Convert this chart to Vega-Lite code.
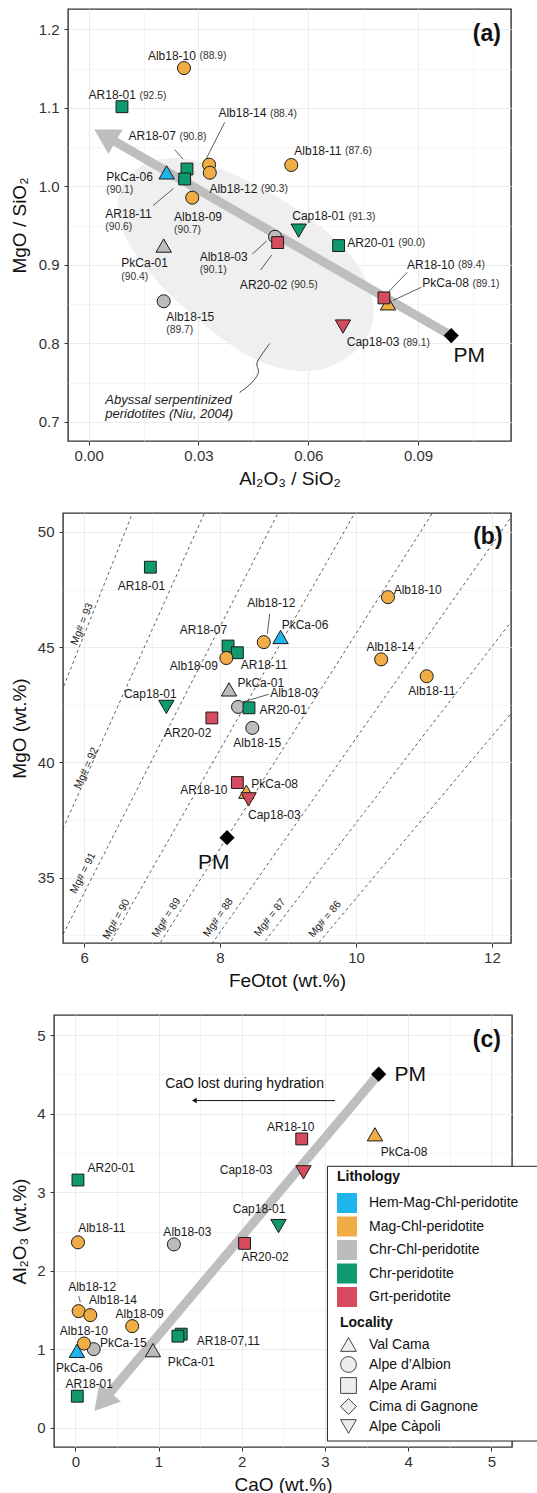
{
 "$schema": "https://vega.github.io/schema/vega-lite/v6.json",
 "padding": {"left": 8, "top": 8, "right": 0, "bottom": 0},
 "spacing": 23,
 "resolve": {"legend": {"color": "independent", "shape": "independent"}},
 "config": {
  "font": "Liberation Sans",
  "view": {"stroke": "#333333", "strokeWidth": 1.4},
  "axis": {"domain": false, "grid": true, "gridColor": "#EBEBEB", "labelFontSize": 15, "labelColor": "#333333", "titleFontSize": 19, "titleFontWeight": "normal", "titleColor": "#111111", "tickSize": 4, "tickColor": "#333333", "labelOverlap": false, "labelFlush": false, "labelBound": false},
  "axisX": {"labelPadding": 3, "titlePadding": 6},
  "axisY": {"labelPadding": 5, "titlePadding": 9, "minExtent": 0}
 },
 "datasets": {
  "a_field": [
   {"i":1,"x":0.0076,"y":0.9735},{"i":2,"x":0.00828,"y":0.9945},{"i":3,"x":0.01074,"y":1.0136},{"i":4,"x":0.01484,"y":1.0289},
   {"i":5,"x":0.0203,"y":1.0365},{"i":6,"x":0.02713,"y":1.0365},{"i":7,"x":0.03533,"y":1.0251},{"i":8,"x":0.04626,"y":1.0009},
   {"i":9,"x":0.05719,"y":0.9716},{"i":10,"x":0.06675,"y":0.9373},{"i":11,"x":0.07358,"y":0.9028},{"i":12,"x":0.07741,"y":0.8672},
   {"i":13,"x":0.07823,"y":0.8341},{"i":14,"x":0.07631,"y":0.8048},{"i":15,"x":0.07085,"y":0.7807},{"i":16,"x":0.06374,"y":0.7641},
   {"i":17,"x":0.055,"y":0.7641},{"i":18,"x":0.04598,"y":0.7768},{"i":19,"x":0.03888,"y":0.7972},{"i":20,"x":0.03095,"y":0.8252},
   {"i":21,"x":0.02385,"y":0.8545},{"i":22,"x":0.01784,"y":0.8825},{"i":23,"x":0.01238,"y":0.9156},{"i":24,"x":0.00883,"y":0.9449}
  ],
  "a_squig": [
   {"i":1,"x":0.04945,"y":0.7999},{"i":2,"x":0.04708,"y":0.7846},{"i":3,"x":0.04544,"y":0.7732},{"i":4,"x":0.0468,"y":0.7655},
   {"i":5,"x":0.04571,"y":0.7553},{"i":6,"x":0.04353,"y":0.7451},{"i":7,"x":0.04126,"y":0.7375}
  ],
  "a_shaft": [{"x":0.09907,"y":0.81},{"x":0.00443,"y":1.0645}],
  "a_head": [{"x":0.00443,"y":1.0645}],
  "a_seg": [
   {"x":0.0235,"y":1.0467,"x2":0.02577,"y2":1.0348},
   {"x":0.03716,"y":1.0814,"x2":0.03186,"y2":1.0327},
   {"x":0.01757,"y":0.9754,"x2":0.02322,"y2":0.9975},
   {"x":0.04475,"y":0.914,"x2":0.04863,"y2":0.9304},
   {"x":0.04697,"y":0.8935,"x2":0.05005,"y2":0.9127},
   {"x":0.08705,"y":0.8906,"x2":0.08158,"y2":0.8639},
   {"x":0.09087,"y":0.8715,"x2":0.08314,"y2":0.8546}
  ],
  "a_pts": [
   {"s":"Alb18-10","lith":"Mag-Chl-peridotite","loc":"Alpe d’Albion","x":0.02604,"y":1.1506},
   {"s":"AR18-01","lith":"Chr-peridotite","loc":"Alpe Arami","x":0.0091,"y":1.1014},
   {"s":"Alb18-11","lith":"Mag-Chl-peridotite","loc":"Alpe d’Albion","x":0.05536,"y":1.0272},
   {"s":"Alb18-14","lith":"Mag-Chl-peridotite","loc":"Alpe d’Albion","x":0.0329,"y":1.0276},
   {"s":"Alb18-12","lith":"Mag-Chl-peridotite","loc":"Alpe d’Albion","x":0.0331,"y":1.0174},
   {"s":"PkCa-06","lith":"Hem-Mag-Chl-peridotite","loc":"Val Cama","x":0.0213,"y":1.0178},
   {"s":"AR18-07","lith":"Chr-peridotite","loc":"Alpe Arami","x":0.02686,"y":1.0221},
   {"s":"AR18-11","lith":"Chr-peridotite","loc":"Alpe Arami","x":0.02623,"y":1.0094},
   {"s":"Alb18-09","lith":"Mag-Chl-peridotite","loc":"Alpe d’Albion","x":0.0283,"y":0.9856},
   {"s":"Cap18-01","lith":"Chr-peridotite","loc":"Alpe Càpoli","x":0.05738,"y":0.9436},
   {"s":"AR20-01","lith":"Chr-peridotite","loc":"Alpe Arami","x":0.0683,"y":0.9246},
   {"s":"Alb18-03","lith":"Chr-Chl-peridotite","loc":"Alpe d’Albion","x":0.05093,"y":0.9358},
   {"s":"AR20-02","lith":"Grt-peridotite","loc":"Alpe Arami","x":0.05164,"y":0.9284},
   {"s":"PkCa-01","lith":"Chr-Chl-peridotite","loc":"Val Cama","x":0.0205,"y":0.9246},
   {"s":"Alb18-15","lith":"Chr-Chl-peridotite","loc":"Alpe d’Albion","x":0.0205,"y":0.8537},
   {"s":"PkCa-08","lith":"Mag-Chl-peridotite","loc":"Val Cama","x":0.08178,"y":0.8511},
   {"s":"AR18-10","lith":"Grt-peridotite","loc":"Alpe Arami","x":0.08068,"y":0.858},
   {"s":"Cap18-03","lith":"Grt-peridotite","loc":"Alpe Càpoli","x":0.06948,"y":0.8215}
  ],
  "a_pm": [{"x":0.09907,"y":0.81}],
  "a_lab1": [
   {"name":"Alb18-10","mg":"(88.9)","x":0.02973,"y":1.1663},
   {"name":"AR18-01","mg":"(92.5)","x":0.01333,"y":1.1163},
   {"name":"AR18-07","mg":"(90.8)","x":0.02426,"y":1.0636},
   {"name":"Alb18-14","mg":"(88.4)","x":0.04899,"y":1.0929},
   {"name":"Alb18-12","mg":"(90.3)","x":0.04653,"y":0.9967},
   {"name":"Alb18-11","mg":"(87.6)","x":0.06948,"y":1.0454},
   {"name":"Cap18-01","mg":"(91.3)","x":0.07044,"y":0.9618},
   {"name":"AR20-01","mg":"(90.0)","x":0.08404,"y":0.928},
   {"name":"AR20-02","mg":"(90.5)","x":0.05467,"y":0.8746},
   {"name":"AR18-10","mg":"(89.4)","x":0.10036,"y":0.9004},
   {"name":"PkCa-08","mg":"(89.1)","x":0.10432,"y":0.8766},
   {"name":"Cap18-03","mg":"(89.1)","x":0.08533,"y":0.8015}
  ],
  "a_lab2": [
   {"name":"PkCa-06","mg":"(90.1)","x":0.00481,"y":1.0123},
   {"name":"AR18-11","mg":"(90.6)","x":0.00454,"y":0.9649},
   {"name":"Alb18-09","mg":"(90.7)","x":0.02331,"y":0.9615},
   {"name":"PkCa-01","mg":"(90.4)","x":0.00891,"y":0.902},
   {"name":"Alb18-03","mg":"(90.1)","x":0.03033,"y":0.9106},
   {"name":"Alb18-15","mg":"(89.7)","x":0.0212,"y":0.8342}
  ],
  "a_tag": [{"t":"(a)","x":0.1088,"y":1.1943}],
  "a_pmt": [{"t":"PM","x":0.104,"y":0.7846}],
  "a_aby": [{"t":"Abyssal serpentinized","x":0.00454,"y":0.7282},{"t":"peridotites (Niu, 2004)","x":0.00454,"y":0.7106}],

  "b_mg": [
   {"mg":93,"x":3.911,"y":30,"x2":7.006,"y2":53},
   {"mg":92,"x":4.604,"y":30,"x2":8.103,"y2":53},
   {"mg":91,"x":5.25,"y":30,"x2":9.231,"y2":53},
   {"mg":90,"x":5.962,"y":30,"x2":10.403,"y2":53},
   {"mg":89,"x":6.652,"y":30,"x2":11.592,"y2":53},
   {"mg":88,"x":7.372,"y":30,"x2":12.844,"y2":53},
   {"mg":87,"x":8.074,"y":30,"x2":14.084,"y2":53},
   {"mg":86,"x":8.832,"y":30,"x2":15.374,"y2":53}
  ],
  "b_mglab": [
   {"mg":93,"t":"Mg# = 93","x":5.97,"y":46.0},
   {"mg":92,"t":"Mg# = 92","x":6.034,"y":39.75},
   {"mg":91,"t":"Mg# = 91","x":5.985,"y":35.2},
   {"mg":90,"t":"Mg# = 90","x":6.477,"y":33.2},
   {"mg":89,"t":"Mg# = 89","x":7.213,"y":33.27},
   {"mg":88,"t":"Mg# = 88","x":7.975,"y":33.27},
   {"mg":87,"t":"Mg# = 87","x":8.735,"y":33.27},
   {"mg":86,"t":"Mg# = 86","x":9.544,"y":33.2}
  ],
  "b_seg": [
   {"x":8.731,"y":46.45,"x2":8.696,"y2":45.584},
   {"x":8.716,"y":42.957,"x2":8.338,"y2":42.623}
  ],
  "b_pts": [
   {"s":"AR18-01","lith":"Chr-peridotite","loc":"Alpe Arami","x":6.975,"y":48.47},
   {"s":"Alb18-10","lith":"Mag-Chl-peridotite","loc":"Alpe d’Albion","x":10.47,"y":47.17},
   {"s":"Alb18-12","lith":"Mag-Chl-peridotite","loc":"Alpe d’Albion","x":8.643,"y":45.22},
   {"s":"PkCa-06","lith":"Hem-Mag-Chl-peridotite","loc":"Val Cama","x":8.89,"y":45.44},
   {"s":"AR18-07","lith":"Chr-peridotite","loc":"Alpe Arami","x":8.118,"y":45.05},
   {"s":"AR18-11","lith":"Chr-peridotite","loc":"Alpe Arami","x":8.255,"y":44.76},
   {"s":"Alb18-09","lith":"Mag-Chl-peridotite","loc":"Alpe d’Albion","x":8.093,"y":44.53},
   {"s":"Alb18-14","lith":"Mag-Chl-peridotite","loc":"Alpe d’Albion","x":10.37,"y":44.47},
   {"s":"Alb18-11","lith":"Mag-Chl-peridotite","loc":"Alpe d’Albion","x":11.04,"y":43.74},
   {"s":"PkCa-01","lith":"Chr-Chl-peridotite","loc":"Val Cama","x":8.132,"y":43.17},
   {"s":"Alb18-03","lith":"Chr-Chl-peridotite","loc":"Alpe d’Albion","x":8.265,"y":42.41},
   {"s":"AR20-01","lith":"Chr-peridotite","loc":"Alpe Arami","x":8.426,"y":42.37},
   {"s":"Cap18-01","lith":"Chr-peridotite","loc":"Alpe Càpoli","x":7.21,"y":42.41},
   {"s":"AR20-02","lith":"Grt-peridotite","loc":"Alpe Arami","x":7.88,"y":41.93},
   {"s":"Alb18-15","lith":"Chr-Chl-peridotite","loc":"Alpe d’Albion","x":8.475,"y":41.5},
   {"s":"AR18-10","lith":"Grt-peridotite","loc":"Alpe Arami","x":8.255,"y":39.13},
   {"s":"PkCa-08","lith":"Mag-Chl-peridotite","loc":"Val Cama","x":8.387,"y":38.73},
   {"s":"Cap18-03","lith":"Grt-peridotite","loc":"Alpe Càpoli","x":8.42,"y":38.4}
  ],
  "b_pm": [{"x":8.103,"y":36.74}],
  "b_lab": [
   {"t":"AR18-01","x":6.843,"y":47.645},
   {"t":"Alb18-10","x":10.907,"y":47.5},
   {"t":"Alb18-12","x":8.754,"y":46.909},
   {"t":"PkCa-06","x":9.25,"y":45.974},
   {"t":"AR18-07","x":7.757,"y":45.758},
   {"t":"AR18-11","x":8.647,"y":44.242},
   {"t":"Alb18-09","x":7.615,"y":44.169},
   {"t":"Alb18-14","x":10.507,"y":45.004},
   {"t":"Alb18-11","x":11.115,"y":43.087},
   {"t":"PkCa-01","x":8.599,"y":43.446},
   {"t":"Alb18-03","x":9.091,"y":43.013},
   {"t":"AR20-01","x":8.929,"y":42.264},
   {"t":"Cap18-01","x":6.974,"y":42.987},
   {"t":"AR20-02","x":7.525,"y":41.281},
   {"t":"Alb18-15","x":8.547,"y":40.823},
   {"t":"AR18-10","x":7.762,"y":38.801},
   {"t":"PkCa-08","x":8.804,"y":39.048},
   {"t":"Cap18-03","x":8.799,"y":37.719}
  ],
  "b_tag": [{"t":"(b)","x":11.94,"y":49.77}],
  "b_pmt": [{"t":"PM","x":7.909,"y":35.654}],

  "c_shaft": [{"x":3.646,"y":4.502},{"x":0.325,"y":0.334}],
  "c_head": [{"x":0.325,"y":0.334}],
  "c_thin": [{"x":3.121,"y":4.166,"x2":1.44,"y2":4.166}],
  "c_thinhead": [{"x":1.43,"y":4.166}],
  "c_seg": [{"x":0.041,"y":1.678,"x2":0.06,"y2":1.601}],
  "c_pts": [
   {"s":"AR18-10","lith":"Grt-peridotite","loc":"Alpe Arami","x":2.721,"y":3.678},
   {"s":"PkCa-08","lith":"Mag-Chl-peridotite","loc":"Val Cama","x":3.601,"y":3.737},
   {"s":"AR20-01","lith":"Chr-peridotite","loc":"Alpe Arami","x":0.032,"y":3.155},
   {"s":"Cap18-03","lith":"Grt-peridotite","loc":"Alpe Càpoli","x":2.742,"y":3.253},
   {"s":"Cap18-01","lith":"Chr-peridotite","loc":"Alpe Càpoli","x":2.442,"y":2.569},
   {"s":"Alb18-11","lith":"Mag-Chl-peridotite","loc":"Alpe d’Albion","x":0.032,"y":2.362},
   {"s":"Alb18-03","lith":"Chr-Chl-peridotite","loc":"Alpe d’Albion","x":1.185,"y":2.336},
   {"s":"AR20-02","lith":"Grt-peridotite","loc":"Alpe Arami","x":2.034,"y":2.349},
   {"s":"Alb18-12","lith":"Mag-Chl-peridotite","loc":"Alpe d’Albion","x":0.04,"y":1.487},
   {"s":"Alb18-14","lith":"Mag-Chl-peridotite","loc":"Alpe d’Albion","x":0.18,"y":1.436},
   {"s":"Alb18-09","lith":"Mag-Chl-peridotite","loc":"Alpe d’Albion","x":0.684,"y":1.296},
   {"s":"AR18-07","lith":"Chr-peridotite","loc":"Alpe Arami","x":1.273,"y":1.194},
   {"s":"AR18-11","lith":"Chr-peridotite","loc":"Alpe Arami","x":1.233,"y":1.168},
   {"s":"PkCa-15","lith":"Chr-Chl-peridotite","loc":"Alpe d’Albion","x":0.221,"y":1.003},
   {"s":"Alb18-10","lith":"Mag-Chl-peridotite","loc":"Alpe d’Albion","x":0.104,"y":1.075},
   {"s":"PkCa-06","lith":"Hem-Mag-Chl-peridotite","loc":"Val Cama","x":0.02,"y":0.981},
   {"s":"PkCa-01","lith":"Chr-Chl-peridotite","loc":"Val Cama","x":0.933,"y":0.99},
   {"s":"AR18-01","lith":"Chr-peridotite","loc":"Alpe Arami","x":0.024,"y":0.404}
  ],
  "c_pm": [{"x":3.646,"y":4.502}],
  "c_lab": [
   {"t":"AR18-10","x":2.589,"y":3.827},
   {"t":"PkCa-08","x":3.95,"y":3.516},
   {"t":"AR20-01","x":0.432,"y":3.304},
   {"t":"Cap18-03","x":2.053,"y":3.283},
   {"t":"Cap18-01","x":2.209,"y":2.782},
   {"t":"Alb18-11","x":0.318,"y":2.54},
   {"t":"Alb18-03","x":1.347,"y":2.497},
   {"t":"AR20-02","x":2.281,"y":2.171},
   {"t":"Alb18-12","x":0.203,"y":1.789},
   {"t":"Alb18-14","x":0.453,"y":1.627},
   {"t":"Alb18-09","x":0.773,"y":1.445},
   {"t":"AR18-07,11","x":1.839,"y":1.104},
   {"t":"Alb18-10","x":0.102,"y":1.236},
   {"t":"PkCa-15","x":0.576,"y":1.083},
   {"t":"PkCa-06","x":0.048,"y":0.757},
   {"t":"PkCa-01","x":1.393,"y":0.841},
   {"t":"AR18-01","x":0.168,"y":0.566}
  ],
  "c_tag": [{"t":"(c)","x":4.946,"y":4.939}],
  "c_pmt": [{"t":"PM","x":4.024,"y":4.493}],
  "c_note": [{"t":"CaO lost during hydration","x":2.034,"y":4.378}],
  "c_box": [{"x":3.03,"x2":5.62,"y":3.33,"y2":-0.166}],
  "spacer": []
 },
 "vconcat": [
  {
   "spacing": 0,
   "resolve": {"legend": {"color": "independent", "shape": "independent"}},
   "hconcat": [
    {"width": 1, "height": 1, "data": {"name": "spacer"}, "mark": {"type": "point", "opacity": 0}, "view": {"stroke": null}},
    {
     "width": 443, "height": 432,
     "encoding": {
      "x": {"field": "x", "type": "quantitative", "title": "Al₂O₃ / SiO₂",
       "scale": {"domain": [-0.00565, 0.1154], "nice": false, "zero": false},
       "axis": {"values": [0,0.015,0.03,0.045,0.06,0.075,0.09,0.105], "format": ".2f",
        "labelExpr": "abs(datum.value/0.03 - round(datum.value/0.03)) < 0.01 ? datum.label : ''",
        "tickOpacity": {"condition": {"test": "abs(datum.value/0.03 - round(datum.value/0.03)) < 0.01", "value": 1}, "value": 0},
        "gridWidth": {"condition": {"test": "abs(datum.value/0.03 - round(datum.value/0.03)) < 0.01", "value": 1}, "value": 0.5}}},
      "y": {"field": "y", "type": "quantitative", "title": "MgO / SiO₂",
       "scale": {"domain": [0.6758, 1.2258], "nice": false, "zero": false},
       "axis": {"values": [0.7,0.75,0.8,0.85,0.9,0.95,1.0,1.05,1.1,1.15,1.2], "format": ".1f", "minExtent": 30, "maxExtent": 30,
        "labelExpr": "abs(datum.value*10 - round(datum.value*10)) < 0.01 ? datum.label : ''",
        "tickOpacity": {"condition": {"test": "abs(datum.value*10 - round(datum.value*10)) < 0.01", "value": 1}, "value": 0},
        "gridWidth": {"condition": {"test": "abs(datum.value*10 - round(datum.value*10)) < 0.01", "value": 1}, "value": 0.5}}}
     },
     "layer": [
      {"data": {"name": "a_field"}, "mark": {"type": "line", "interpolate": "basis-closed", "fill": "#EFEFEF", "strokeOpacity": 0}, "encoding": {"order": {"field": "i", "type": "quantitative"}}},
      {"data": {"name": "a_squig"}, "mark": {"type": "line", "interpolate": "basis", "color": "#333333", "strokeWidth": 0.9}, "encoding": {"order": {"field": "i", "type": "quantitative"}}},
      {"data": {"name": "a_shaft"}, "mark": {"type": "line", "color": "#BEBEBE", "strokeWidth": 9, "strokeCap": "butt"}, "encoding": {}},
      {"data": {"name": "a_head"}, "mark": {"type": "point", "shape": "triangle-up", "angle": 300, "size": 800, "filled": true, "color": "#BEBEBE", "opacity": 1, "strokeWidth": 0}, "encoding": {}},
      {"data": {"name": "a_seg"}, "mark": {"type": "rule", "color": "#333333", "strokeWidth": 0.8}, "encoding": {"x2": {"field": "x2"}, "y2": {"field": "y2"}}},
      {"data": {"name": "a_pts"}, "mark": {"type": "point", "filled": true, "opacity": 1, "stroke": "#1a1a1a", "strokeWidth": 1},
       "encoding": {
        "color": {"field": "lith", "type": "nominal", "scale": {"domain": ["Hem-Mag-Chl-peridotite","Mag-Chl-peridotite","Chr-Chl-peridotite","Chr-peridotite","Grt-peridotite"], "range": ["#1FB4EC","#F0AD46","#BCBCBC","#0E9A6E","#D64B5E"]}, "legend": null},
        "shape": {"field": "loc", "type": "nominal", "scale": {"domain": ["Val Cama","Alpe d’Albion","Alpe Arami","Cima di Gagnone","Alpe Càpoli"], "range": ["triangle-up","circle","square","diamond","triangle-down"]}, "legend": null},
        "size": {"condition": [{"test": "datum.loc === 'Alpe Arami'", "value": 140}, {"test": "datum.loc === 'Alpe d’Albion'", "value": 170}], "value": 235}
       }},
      {"data": {"name": "a_pm"}, "mark": {"type": "point", "shape": "diamond", "size": 230, "filled": true, "color": "#000000", "opacity": 1}, "encoding": {}},
      {"data": {"name": "a_lab1"}, "mark": {"type": "text", "align": "right", "baseline": "middle", "fontSize": 12, "dx": -1.5, "color": "#1a1a1a"}, "encoding": {"text": {"field": "name"}}},
      {"data": {"name": "a_lab1"}, "mark": {"type": "text", "align": "left", "baseline": "middle", "fontSize": 10.3, "dx": 2, "dy": 0.5, "color": "#333333"}, "encoding": {"text": {"field": "mg"}}},
      {"data": {"name": "a_lab2"}, "mark": {"type": "text", "align": "left", "baseline": "middle", "fontSize": 12, "color": "#1a1a1a"}, "encoding": {"text": {"field": "name"}}},
      {"data": {"name": "a_lab2"}, "mark": {"type": "text", "align": "left", "baseline": "middle", "fontSize": 10.3, "dy": 13.5, "color": "#333333"}, "encoding": {"text": {"field": "mg"}}},
      {"data": {"name": "a_tag"}, "mark": {"type": "text", "align": "center", "baseline": "middle", "fontSize": 23, "fontWeight": "bold", "color": "#111111"}, "encoding": {"text": {"field": "t"}}},
      {"data": {"name": "a_pmt"}, "mark": {"type": "text", "align": "center", "baseline": "middle", "fontSize": 21, "color": "#111111"}, "encoding": {"text": {"field": "t"}}},
      {"data": {"name": "a_aby"}, "mark": {"type": "text", "align": "left", "baseline": "middle", "fontSize": 13, "fontStyle": "italic", "color": "#222222"}, "encoding": {"text": {"field": "t"}}}
     ]
    }
   ]
  },
  {
   "spacing": 0,
   "resolve": {"legend": {"color": "independent", "shape": "independent"}},
   "hconcat": [
    {"width": 1, "height": 1, "data": {"name": "spacer"}, "mark": {"type": "point", "opacity": 0}, "view": {"stroke": null}},
    {
     "width": 448, "height": 430,
     "encoding": {
      "x": {"field": "x", "type": "quantitative", "title": "FeOtot (wt.%)",
       "scale": {"domain": [5.69, 12.28], "nice": false, "zero": false},
       "axis": {"values": [6,7,8,9,10,11,12], "format": ".0f",
        "labelExpr": "datum.value % 2 == 0 ? datum.label : ''",
        "tickOpacity": {"condition": {"test": "datum.value % 2 == 0", "value": 1}, "value": 0},
        "gridWidth": {"condition": {"test": "datum.value % 2 == 0", "value": 1}, "value": 0.5}}},
      "y": {"field": "y", "type": "quantitative", "title": "MgO (wt.%)",
       "scale": {"domain": [32.17, 50.82], "nice": false, "zero": false},
       "axis": {"values": [32.5,35,37.5,40,42.5,45,47.5,50], "format": ".0f", "minExtent": 25, "maxExtent": 25,
        "labelExpr": "datum.value % 5 == 0 ? datum.label : ''",
        "tickOpacity": {"condition": {"test": "datum.value % 5 == 0", "value": 1}, "value": 0},
        "gridWidth": {"condition": {"test": "datum.value % 5 == 0", "value": 1}, "value": 0.5}}}
     },
     "layer": [
      {"data": {"name": "b_mg"}, "mark": {"type": "rule", "color": "#333333", "strokeWidth": 0.8, "strokeDash": [3, 3], "clip": true}, "encoding": {"x2": {"field": "x2"}, "y2": {"field": "y2"}}},
      {"data": {"name": "b_mglab"}, "mark": {"type": "text", "align": "center", "baseline": "middle", "fontSize": 10.5, "color": "#222222"},
       "encoding": {"text": {"field": "t"}, "angle": {"field": "mg", "type": "quantitative", "scale": {"domain": [86, 93], "range": [310, 291.6]}}}},
      {"data": {"name": "b_seg"}, "mark": {"type": "rule", "color": "#333333", "strokeWidth": 0.8}, "encoding": {"x2": {"field": "x2"}, "y2": {"field": "y2"}}},
      {"data": {"name": "b_pts"}, "mark": {"type": "point", "filled": true, "opacity": 1, "stroke": "#1a1a1a", "strokeWidth": 1},
       "encoding": {
        "color": {"field": "lith", "type": "nominal", "scale": {"domain": ["Hem-Mag-Chl-peridotite","Mag-Chl-peridotite","Chr-Chl-peridotite","Chr-peridotite","Grt-peridotite"], "range": ["#1FB4EC","#F0AD46","#BCBCBC","#0E9A6E","#D64B5E"]}, "legend": null},
        "shape": {"field": "loc", "type": "nominal", "scale": {"domain": ["Val Cama","Alpe d’Albion","Alpe Arami","Cima di Gagnone","Alpe Càpoli"], "range": ["triangle-up","circle","square","diamond","triangle-down"]}, "legend": null},
        "size": {"condition": [{"test": "datum.loc === 'Alpe Arami'", "value": 140}, {"test": "datum.loc === 'Alpe d’Albion'", "value": 170}], "value": 235}
       }},
      {"data": {"name": "b_pm"}, "mark": {"type": "point", "shape": "diamond", "size": 230, "filled": true, "color": "#000000", "opacity": 1}, "encoding": {}},
      {"data": {"name": "b_lab"}, "mark": {"type": "text", "align": "center", "baseline": "middle", "fontSize": 12, "color": "#1a1a1a"}, "encoding": {"text": {"field": "t"}}},
      {"data": {"name": "b_tag"}, "mark": {"type": "text", "align": "center", "baseline": "middle", "fontSize": 23, "fontWeight": "bold", "color": "#111111"}, "encoding": {"text": {"field": "t"}}},
      {"data": {"name": "b_pmt"}, "mark": {"type": "text", "align": "center", "baseline": "middle", "fontSize": 21, "color": "#111111"}, "encoding": {"text": {"field": "t"}}}
     ]
    }
   ]
  },
  {
   "spacing": 0,
   "resolve": {"legend": {"color": "independent", "shape": "independent"}},
   "hconcat": [
    {"width": 1, "height": 1, "data": {"name": "spacer"}, "mark": {"type": "point", "opacity": 0}, "view": {"stroke": null}},
    {
     "width": 458, "height": 432,
     "encoding": {
      "x": {"field": "x", "type": "quantitative", "title": "CaO (wt.%)",
       "scale": {"domain": [-0.256, 5.248], "nice": false, "zero": false},
       "axis": {"values": [0,0.5,1,1.5,2,2.5,3,3.5,4,4.5,5], "format": ".0f",
        "labelExpr": "datum.value % 1 == 0 ? datum.label : ''",
        "tickOpacity": {"condition": {"test": "datum.value % 1 == 0", "value": 1}, "value": 0},
        "gridWidth": {"condition": {"test": "datum.value % 1 == 0", "value": 1}, "value": 0.5}}},
      "y": {"field": "y", "type": "quantitative", "title": "Al₂O₃ (wt.%)",
       "scale": {"domain": [-0.242, 5.255], "nice": false, "zero": false},
       "axis": {"values": [0,0.5,1,1.5,2,2.5,3,3.5,4,4.5,5], "format": ".0f", "minExtent": 16, "maxExtent": 16,
        "labelExpr": "datum.value % 1 == 0 ? datum.label : ''",
        "tickOpacity": {"condition": {"test": "datum.value % 1 == 0", "value": 1}, "value": 0},
        "gridWidth": {"condition": {"test": "datum.value % 1 == 0", "value": 1}, "value": 0.5}}}
     },
     "layer": [
      {"data": {"name": "c_shaft"}, "mark": {"type": "line", "color": "#BEBEBE", "strokeWidth": 9, "strokeCap": "butt"}, "encoding": {}},
      {"data": {"name": "c_head"}, "mark": {"type": "point", "shape": "triangle-up", "angle": 220, "size": 800, "filled": true, "color": "#BEBEBE", "opacity": 1, "strokeWidth": 0}, "encoding": {}},
      {"data": {"name": "c_thin"}, "mark": {"type": "rule", "color": "#111111", "strokeWidth": 1}, "encoding": {"x2": {"field": "x2"}, "y2": {"field": "y2"}}},
      {"data": {"name": "c_thinhead"}, "mark": {"type": "point", "shape": "triangle-left", "size": 30, "filled": true, "color": "#111111", "opacity": 1}, "encoding": {}},
      {"data": {"name": "c_seg"}, "mark": {"type": "rule", "color": "#333333", "strokeWidth": 0.8}, "encoding": {"x2": {"field": "x2"}, "y2": {"field": "y2"}}},
      {"data": {"name": "c_pts"}, "mark": {"type": "point", "filled": true, "opacity": 1, "stroke": "#1a1a1a", "strokeWidth": 1},
       "encoding": {
        "color": {"field": "lith", "type": "nominal", "scale": {"domain": ["Hem-Mag-Chl-peridotite","Mag-Chl-peridotite","Chr-Chl-peridotite","Chr-peridotite","Grt-peridotite"], "range": ["#1FB4EC","#F0AD46","#BCBCBC","#0E9A6E","#D64B5E"]},
         "legend": {"orient": "none", "legendX": 283, "legendY": 155, "title": "Lithology", "titleFontSize": 14, "titleFontWeight": "bold", "titleColor": "#111111", "labelFontSize": 14, "labelColor": "#111111", "symbolType": "square", "symbolSize": 400, "symbolStrokeWidth": 0, "symbolOpacity": 1, "rowPadding": 3.5, "labelOffset": 12, "titlePadding": 9, "padding": 0}},
        "shape": {"field": "loc", "type": "nominal", "scale": {"domain": ["Val Cama","Alpe d’Albion","Alpe Arami","Cima di Gagnone","Alpe Càpoli"], "range": ["triangle-up","circle","square","diamond","triangle-down"]},
         "legend": {"orient": "none", "legendX": 286, "legendY": 301, "title": "Locality", "titleFontSize": 14, "titleFontWeight": "bold", "titleColor": "#111111", "labelFontSize": 14, "labelColor": "#111111", "symbolSize": 250, "symbolFillColor": "#EEEEEE", "symbolStrokeColor": "#444444", "symbolStrokeWidth": 1, "symbolOpacity": 1, "rowPadding": 0, "labelOffset": 12, "titlePadding": 6, "padding": 0}},
        "size": {"condition": [{"test": "datum.loc === 'Alpe Arami'", "value": 140}, {"test": "datum.loc === 'Alpe d’Albion'", "value": 170}], "value": 235}
       }},
      {"data": {"name": "c_pm"}, "mark": {"type": "point", "shape": "diamond", "size": 230, "filled": true, "color": "#000000", "opacity": 1}, "encoding": {}},
      {"data": {"name": "c_lab"}, "mark": {"type": "text", "align": "center", "baseline": "middle", "fontSize": 12, "color": "#1a1a1a"}, "encoding": {"text": {"field": "t"}}},
      {"data": {"name": "c_tag"}, "mark": {"type": "text", "align": "center", "baseline": "middle", "fontSize": 23, "fontWeight": "bold", "color": "#111111"}, "encoding": {"text": {"field": "t"}}},
      {"data": {"name": "c_pmt"}, "mark": {"type": "text", "align": "center", "baseline": "middle", "fontSize": 21, "color": "#111111"}, "encoding": {"text": {"field": "t"}}},
      {"data": {"name": "c_note"}, "mark": {"type": "text", "align": "center", "baseline": "middle", "fontSize": 14, "color": "#111111"}, "encoding": {"text": {"field": "t"}}},
      {"data": {"name": "c_box"}, "mark": {"type": "rect", "fill": "#FFFFFF", "stroke": "#222222", "strokeWidth": 1}, "encoding": {"x2": {"field": "x2"}, "y2": {"field": "y2"}}}
     ]
    }
   ]
  }
 ]
}
